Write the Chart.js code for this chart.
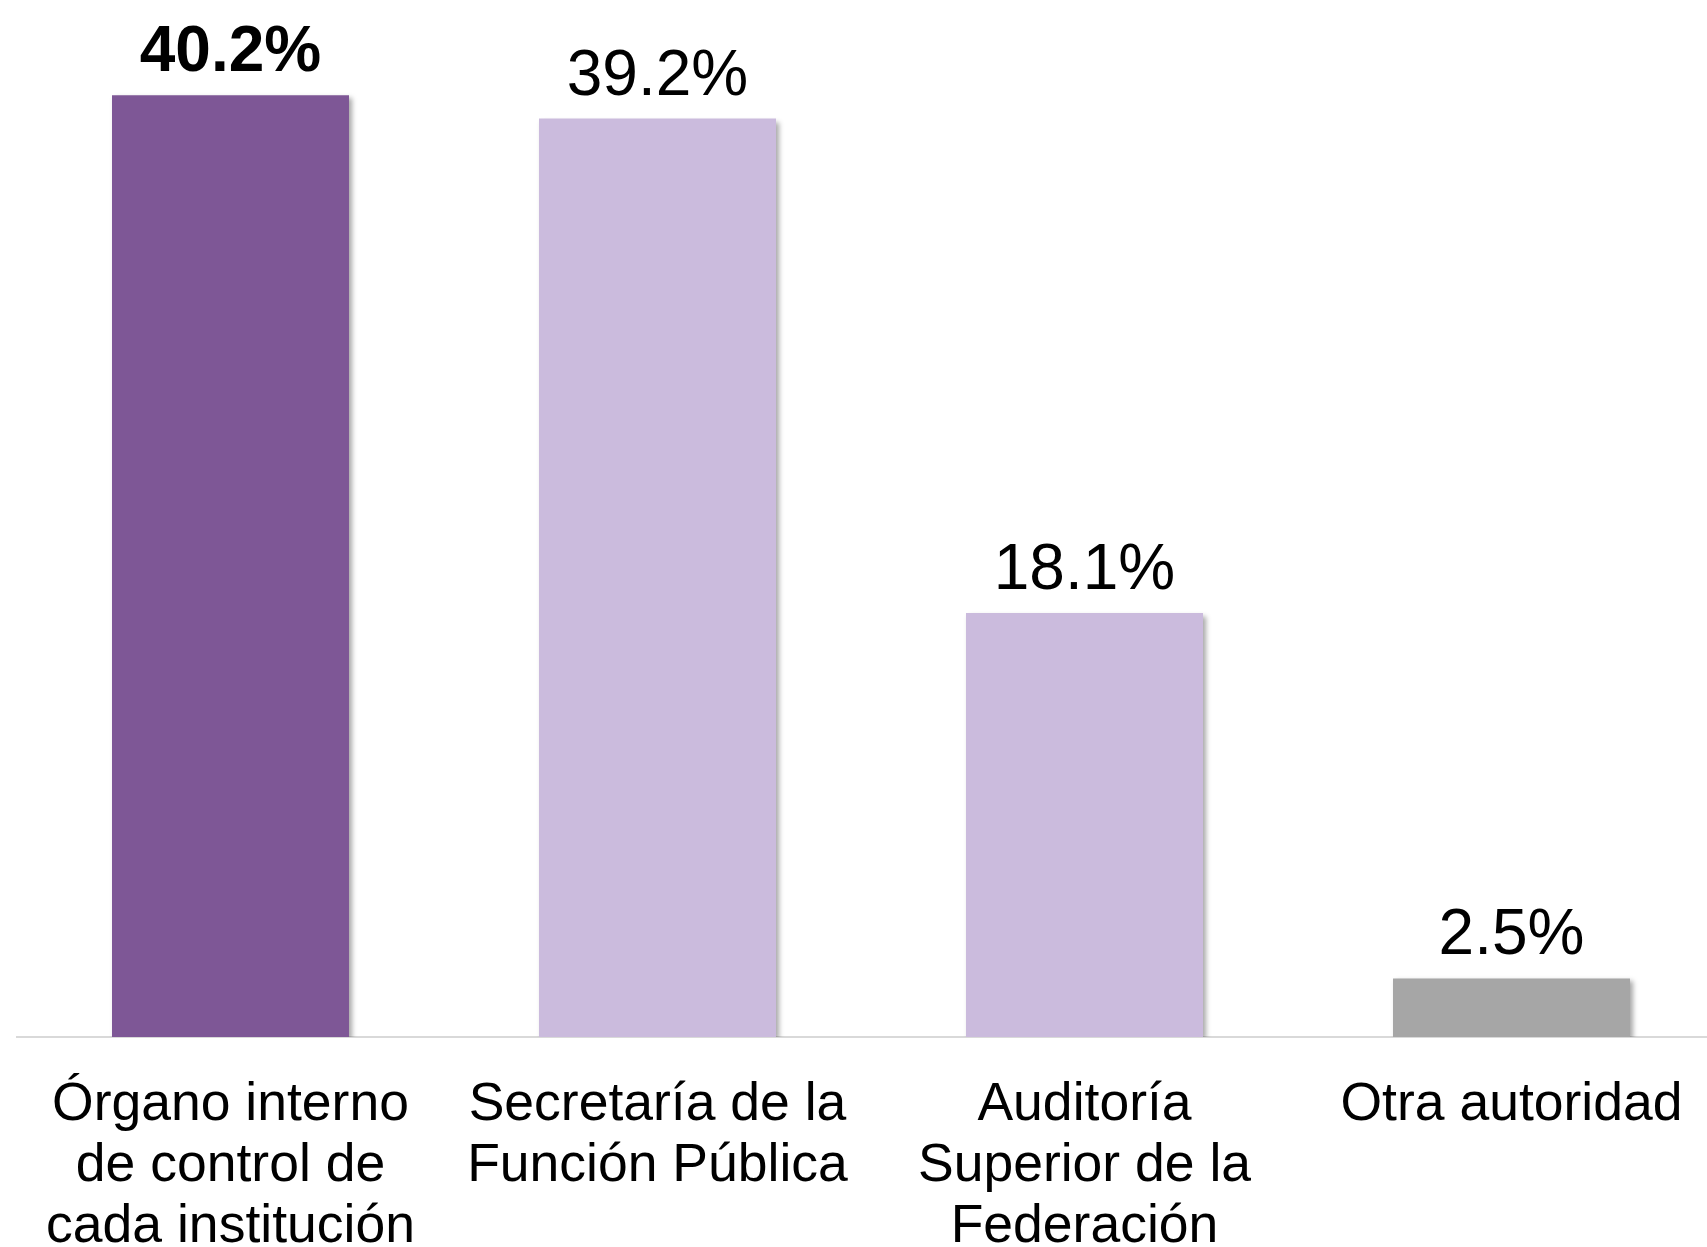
<!DOCTYPE html>
<html>
<head>
<meta charset="utf-8">
<script src="https://cdn.jsdelivr.net/npm/chart.js@4/dist/chart.umd.min.js"></script>
<style>
  html, body { margin: 0; padding: 0; background: #ffffff; overflow: hidden; }
  #wrap { width: 1725px; height: 1247px; position: relative; }
</style>
</head>
<body>
<div id="wrap"><canvas id="c"></canvas></div>
<script>
const categories = [
  ['Órgano interno', 'de control de', 'cada institución'],
  ['Secretaría de la', 'Función Pública'],
  ['Auditoría', 'Superior de la', 'Federación'],
  'Otra autoridad'
];
const values = [40.2, 39.2, 18.1, 2.5];
const valueLabels = ['40.2%', '39.2%', '18.1%', '2.5%'];
const barColors = ['#7E5796', '#CBBBDD', '#CBBBDD', '#A6A6A6'];
const labelBold = [true, false, false, false];

const shadowPlugin = {
  id: 'barShadow',
  beforeDatasetsDraw(chart) {
    const ctx = chart.ctx;
    ctx.save();
    ctx.shadowColor = 'rgba(0,0,0,0.35)';
    ctx.shadowBlur = 5;
    ctx.shadowOffsetX = 3;
    ctx.shadowOffsetY = 3;
  },
  afterDatasetsDraw(chart) {
    chart.ctx.restore();
  }
};

const valueLabelPlugin = {
  id: 'valueLabels',
  afterDraw(chart) {
    const ctx = chart.ctx;
    const meta = chart.getDatasetMeta(0);
    ctx.save();
    ctx.fillStyle = '#000000';
    ctx.textAlign = 'center';
    ctx.textBaseline = 'alphabetic';
    meta.data.forEach((bar, i) => {
      ctx.font = (labelBold[i] ? 'bold ' : '') + '64px "Liberation Sans", Arial, sans-serif';
      ctx.fillText(valueLabels[i], bar.x, bar.y - 24);
    });
    ctx.restore();
  }
};

new Chart(document.getElementById('c'), {
  type: 'bar',
  data: {
    labels: categories,
    datasets: [{
      data: values,
      backgroundColor: barColors,
      borderWidth: 0,
      categoryPercentage: 1.0,
      barPercentage: 0.555
    }]
  },
  options: {
    responsive: true,
    maintainAspectRatio: false,
    animation: false,
    events: [],
    layout: { padding: { top: 53, left: 17, right: 0, bottom: 0 } },
    plugins: {
      legend: { display: false },
      tooltip: { enabled: false },
      title: { display: false }
    },
    scales: {
      x: {
        grid: { display: false, drawTicks: false },
        border: { display: true, color: '#D9D9D9', width: 2 },
        ticks: {
          color: '#000000',
          font: { family: '"Liberation Sans", Arial, sans-serif', size: 53.5, lineHeight: 1.14 },
          padding: 38,
          maxRotation: 0,
          minRotation: 0,
          autoSkip: false
        },
        afterFit(scale) { scale.height = 210; }
      },
      y: {
        display: false,
        min: 0,
        max: 42
      }
    }
  },
  plugins: [shadowPlugin, valueLabelPlugin]
});
</script>
</body>
</html>
